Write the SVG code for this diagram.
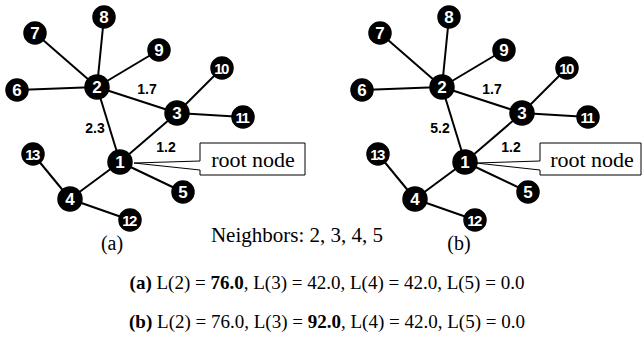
<svg xmlns="http://www.w3.org/2000/svg" width="642" height="341" viewBox="0 0 642 341">
<style>
.e{stroke:#000;stroke-width:2;fill:none}
.n circle{fill:#000;stroke:#000;stroke-width:1.5}
.n text{fill:#fff;font-family:"Liberation Sans",Arial,sans-serif;font-weight:bold;font-size:17px;text-anchor:middle}
.n text.d{font-size:15px;letter-spacing:-1.5px}
.w{font-family:"Liberation Sans",Arial,sans-serif;font-weight:bold;font-size:14px;fill:#000}
.s{font-family:"Liberation Serif","Times New Roman",serif;fill:#000}
.c{fill:#fff;stroke:#000;stroke-width:1}
</style>
<rect width="642" height="341" fill="#fff"/>
<g id="connectors">
<line class="e" x1="97" y1="87" x2="35" y2="33"/>
<line class="e" x1="97" y1="87" x2="104" y2="17"/>
<line class="e" x1="97" y1="87" x2="159" y2="50"/>
<line class="e" x1="97" y1="87" x2="17" y2="90"/>
<line class="e" x1="97" y1="87" x2="177" y2="113"/>
<line class="e" x1="97" y1="87" x2="120" y2="162"/>
<line class="e" x1="177" y1="113" x2="222" y2="68"/>
<line class="e" x1="177" y1="113" x2="243" y2="117"/>
<line class="e" x1="177" y1="113" x2="120" y2="162"/>
<line class="e" x1="120" y1="162" x2="70" y2="199"/>
<line class="e" x1="120" y1="162" x2="183" y2="192"/>
<line class="e" x1="70" y1="199" x2="33" y2="154"/>
<line class="e" x1="70" y1="199" x2="130" y2="220"/>
<line class="e" x1="442" y1="87" x2="380" y2="33"/>
<line class="e" x1="442" y1="87" x2="449" y2="17"/>
<line class="e" x1="442" y1="87" x2="504" y2="50"/>
<line class="e" x1="442" y1="87" x2="362" y2="90"/>
<line class="e" x1="442" y1="87" x2="522" y2="113"/>
<line class="e" x1="442" y1="87" x2="465" y2="162"/>
<line class="e" x1="522" y1="113" x2="567" y2="68"/>
<line class="e" x1="522" y1="113" x2="588" y2="117"/>
<line class="e" x1="522" y1="113" x2="465" y2="162"/>
<line class="e" x1="465" y1="162" x2="415" y2="199"/>
<line class="e" x1="465" y1="162" x2="528" y2="192"/>
<line class="e" x1="415" y1="199" x2="378" y2="154"/>
<line class="e" x1="415" y1="199" x2="475" y2="220"/>
</g>
<g id="callout-a"><polygon class="c" points="200,143 305,143 305,175 200,175 200,170 134,163 200,161"/><text class="s" x="253" y="167" font-size="22" text-anchor="middle">root node</text></g>
<g id="callout-b"><polygon class="c" points="540,143 641,143 641,175 540,175 540,170 476,163 540,161"/><text class="s" x="592" y="167" font-size="22" text-anchor="middle">root node</text></g>
<g id="a1" class="n"><circle cx="120" cy="162" r="12"/><text x="120" y="168">1</text></g>
<g id="a2" class="n"><circle cx="97" cy="87" r="12"/><text x="97" y="93">2</text></g>
<g id="a3" class="n"><circle cx="177" cy="113" r="12"/><text x="177" y="119">3</text></g>
<g id="a4" class="n"><circle cx="70" cy="199" r="12"/><text x="70" y="205">4</text></g>
<g id="a5" class="n"><circle cx="183" cy="192" r="11"/><text x="183" y="198">5</text></g>
<g id="a6" class="n"><circle cx="17" cy="90" r="11"/><text x="17" y="96">6</text></g>
<g id="a7" class="n"><circle cx="35" cy="33" r="11"/><text x="35" y="39">7</text></g>
<g id="a8" class="n"><circle cx="104" cy="17" r="11"/><text x="104" y="23">8</text></g>
<g id="a9" class="n"><circle cx="159" cy="50" r="11"/><text x="159" y="56">9</text></g>
<g id="a10" class="n"><circle cx="222" cy="68" r="11"/><text class="d" x="221" y="73.5">10</text></g>
<g id="a11" class="n"><circle cx="243" cy="117" r="11"/><text class="d" x="242" y="122.5">11</text></g>
<g id="a12" class="n"><circle cx="130" cy="220" r="11"/><text class="d" x="129" y="225.5">12</text></g>
<g id="a13" class="n"><circle cx="33" cy="154" r="11"/><text class="d" x="32" y="159.5">13</text></g>
<g id="b1" class="n"><circle cx="465" cy="162" r="12"/><text x="465" y="168">1</text></g>
<g id="b2" class="n"><circle cx="442" cy="87" r="12"/><text x="442" y="93">2</text></g>
<g id="b3" class="n"><circle cx="522" cy="113" r="12"/><text x="522" y="119">3</text></g>
<g id="b4" class="n"><circle cx="415" cy="199" r="12"/><text x="415" y="205">4</text></g>
<g id="b5" class="n"><circle cx="528" cy="192" r="11"/><text x="528" y="198">5</text></g>
<g id="b6" class="n"><circle cx="362" cy="90" r="11"/><text x="362" y="96">6</text></g>
<g id="b7" class="n"><circle cx="380" cy="33" r="11"/><text x="380" y="39">7</text></g>
<g id="b8" class="n"><circle cx="449" cy="17" r="11"/><text x="449" y="23">8</text></g>
<g id="b9" class="n"><circle cx="504" cy="50" r="11"/><text x="504" y="56">9</text></g>
<g id="b10" class="n"><circle cx="567" cy="68" r="11"/><text class="d" x="566" y="73.5">10</text></g>
<g id="b11" class="n"><circle cx="588" cy="117" r="11"/><text class="d" x="587" y="122.5">11</text></g>
<g id="b12" class="n"><circle cx="475" cy="220" r="11"/><text class="d" x="474" y="225.5">12</text></g>
<g id="b13" class="n"><circle cx="378" cy="154" r="11"/><text class="d" x="377" y="159.5">13</text></g>
<g id="edge-labels">
<text class="w" x="147" y="94" text-anchor="middle">1.7</text>
<text class="w" x="95" y="133" text-anchor="middle">2.3</text>
<text class="w" x="166" y="152" text-anchor="middle">1.2</text>
<text class="w" x="492" y="94" text-anchor="middle">1.7</text>
<text class="w" x="440" y="133" text-anchor="middle">5.2</text>
<text class="w" x="511" y="152" text-anchor="middle">1.2</text>
</g>
<g id="captions">
<text class="s" x="297" y="242" font-size="21" text-anchor="middle">Neighbors: 2, 3, 4, 5</text>
<text class="s" x="112" y="250" font-size="20" text-anchor="middle">(a)</text>
<text class="s" x="459" y="250" font-size="20" text-anchor="middle">(b)</text>
<text class="s" x="327" y="289" font-size="19" text-anchor="middle"><tspan font-weight="bold">(a)</tspan> L(2) = <tspan font-weight="bold">76.0</tspan>, L(3) = 42.0, L(4) = 42.0, L(5) = 0.0</text>
<text class="s" x="327" y="328" font-size="19" text-anchor="middle"><tspan font-weight="bold">(b)</tspan> L(2) = 76.0, L(3) = <tspan font-weight="bold">92.0</tspan>, L(4) = 42.0, L(5) = 0.0</text>
</g>
</svg>
